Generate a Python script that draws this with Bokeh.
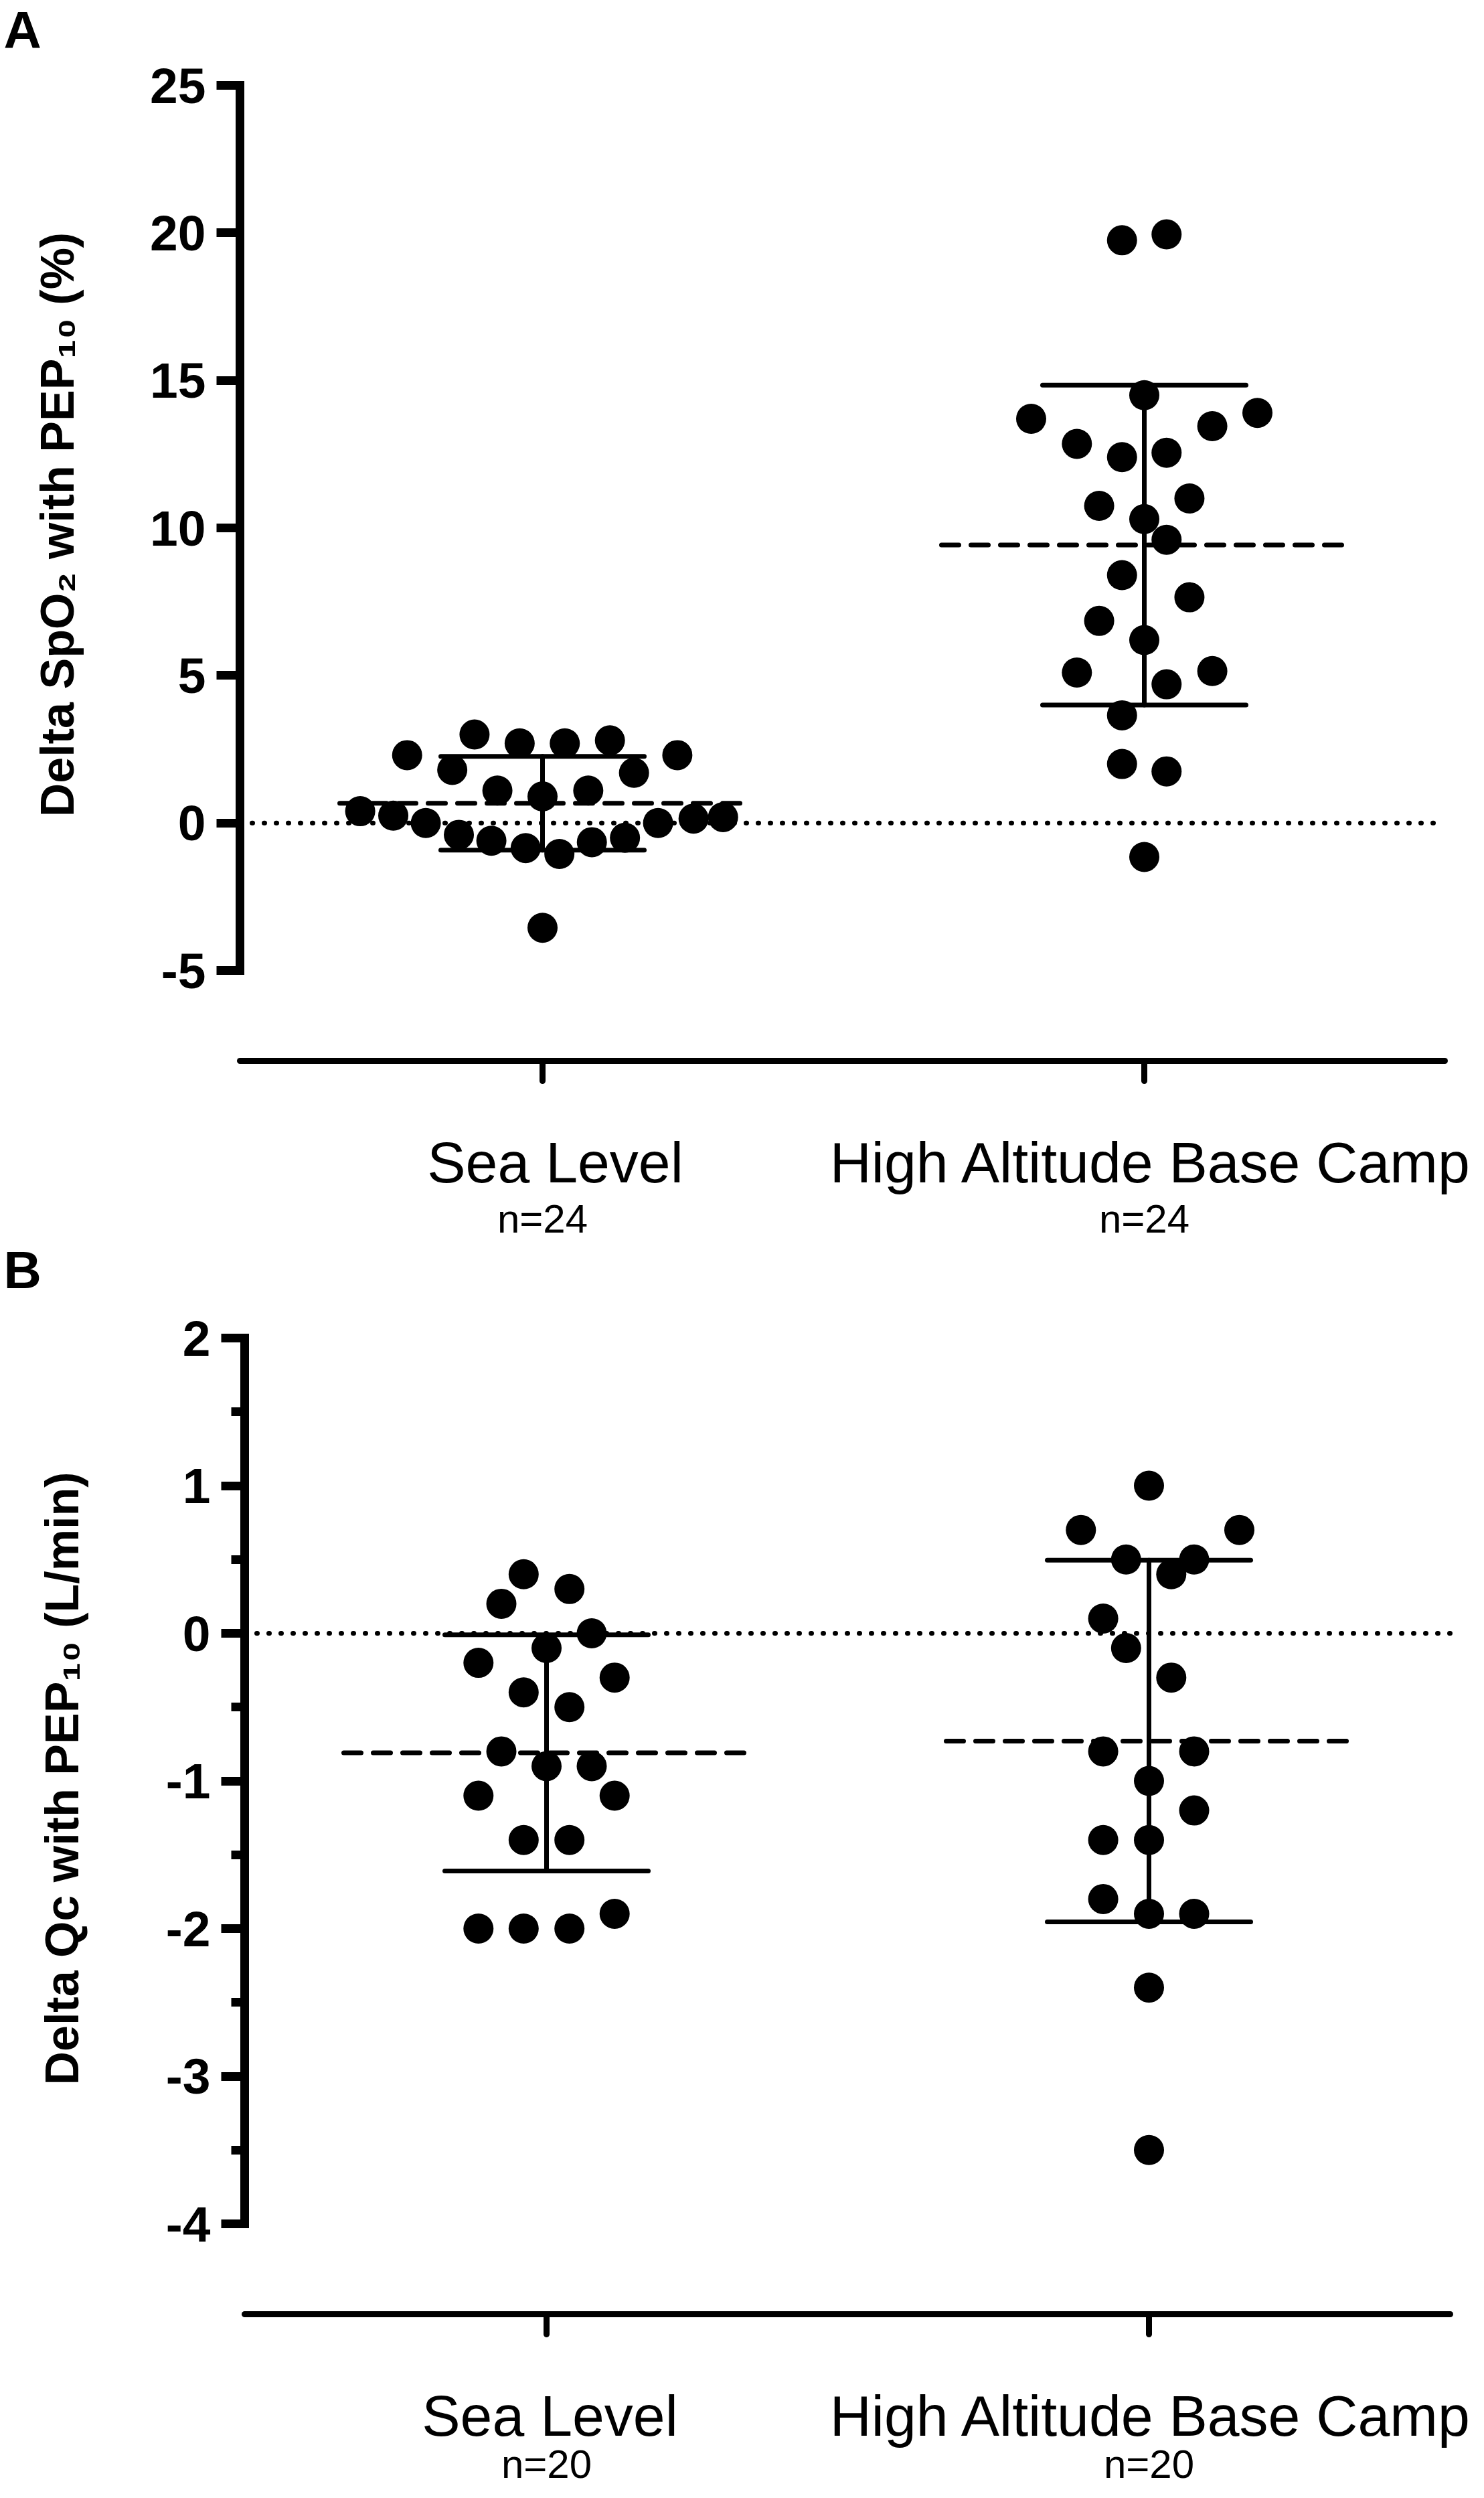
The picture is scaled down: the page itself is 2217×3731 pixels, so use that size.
import numpy as np
from bokeh.plotting import figure
from bokeh.models import FixedTicker, LinearAxis, Range1d
from bokeh.core.properties import value
from bokeh.embed import file_html
from bokeh.resources import INLINE

# ---------------- data ----------------
categories = ["Sea Level", "High Altitude Base Camp"]
n_labels_a = ["n=24", "n=24"]
n_labels_b = ["n=20", "n=20"]

# Panel A: Delta SpO2 with PEP10 (%)
spo2_sea = [0.4, 0.25, 0.0, 2.3, 1.8, 3.0, 2.7, 2.7, 2.8, 1.7, 2.3, 1.1, 0.9, 1.1,
            -0.4, -0.6, -0.85, -1.05, -0.65, -0.5, 0.0, 0.15, 0.2, -3.55]
spo2_sea_jitter = [-0.303, -0.248, -0.194, -0.225, -0.150, -0.113, -0.038, 0.037, 0.112,
                   0.152, 0.224, -0.075, 0.0, 0.076, -0.139, -0.085, -0.028, 0.028,
                   0.082, 0.137, 0.192, 0.251, 0.300, 0.0]
spo2_high = [19.75, 19.95, 14.5, 13.7, 13.9, 13.45, 12.85, 12.4, 12.55, 10.75, 11.0, 10.3,
             9.6, 8.4, 7.65, 6.85, 6.2, 5.1, 5.15, 4.7, 3.65, 2.0, 1.75, -1.15]
spo2_high_jitter = [-0.037, 0.037, 0.0, -0.188, 0.188, 0.113, -0.112, -0.037, 0.037, -0.075,
                    0.075, 0.0, 0.037, -0.037, 0.075, -0.075, 0.0, -0.112, 0.113, 0.037,
                    -0.037, -0.037, 0.037, 0.0]
spo2_mean = [0.67, 9.42]
spo2_sd = [1.59, 5.42]

# Panel B: Delta Qc with PEP10 (L/min)
qc_sea = [0.4, 0.3, 0.2, 0.0, -0.1, -0.2, -0.3, -0.4, -0.5, -0.8, -0.9, -0.9, -1.1, -1.1,
          -1.4, -1.4, -2.0, -2.0, -2.0, -1.9]
qc_sea_jitter = [-0.038, 0.038, -0.075, 0.075, 0.0, -0.113, 0.113, -0.038, 0.038, -0.075,
                 0.0, 0.075, -0.113, 0.113, -0.038, 0.038, -0.113, -0.038, 0.038, 0.113]
qc_high = [1.0, 0.7, 0.7, 0.5, 0.5, 0.4, 0.1, -0.1, -0.3, -0.8, -0.8, -1.0, -1.2, -1.4,
           -1.4, -1.8, -1.9, -1.9, -2.4, -3.5]
qc_high_jitter = [0.0, -0.113, 0.150, -0.038, 0.075, 0.037, -0.076, -0.038, 0.037, -0.076,
                  0.075, 0.0, 0.075, -0.076, 0.0, -0.076, 0.0, 0.075, 0.0, 0.0]
qc_mean = [-0.81, -0.73]
qc_sd = [0.80, 1.225]

yticks_a = [-5, 0, 5, 10, 15, 20, 25]
yticks_b = [-4, -3, -2, -1, 0, 1, 2]
yminor_b = [-3.5, -2.5, -1.5, -0.5, 0.5, 1.5]

FONT = "Liberation Sans"
W, H = 2200, 3715


def ranges(geo):
    ppx, ppy = geo["px_per_cat"], geo["px_per_unit"]
    x0 = 1.0 - geo["cat1_px"] / ppx
    x1 = x0 + W / ppx
    tick, tick_px = geo["top_tick"]
    y1 = tick + tick_px / ppy
    y0 = y1 - H / ppy
    return (x0, x1), (y0, y1)


geo_a = dict(px_per_cat=899.0, cat1_px=810.0, px_per_unit=44.07, top_tick=(25, 127.0),
             yaxis_px=358.0, xaxis_px=1584.0, xend_px=2158.0, label_dx_px=19.0,
             cat_standoff=103, n_mid_px=1820.0, letter_px=(5, 44.0), ytitle_px=(85, 783))
geo_b = dict(px_per_cat=900.0, cat1_px=816.0, px_per_unit=220.5, top_tick=(2, 1998.0),
             yaxis_px=365.0, xaxis_px=3456.0, xend_px=2166.0, label_dx_px=5.0,
             cat_standoff=103, n_mid_px=3680.0, letter_px=(5, 1896.5), ytitle_px=(92, 2656))

xr_a, yr_a = ranges(geo_a)
xr_b, yr_b = ranges(geo_b)

p = figure(width=W, height=H, output_backend="svg", toolbar_location=None,
           x_range=Range1d(*xr_a), y_range=Range1d(*yr_a), min_border=0)
p.extra_x_ranges = {"bx": Range1d(*xr_b)}
p.extra_y_ranges = {"by": Range1d(*yr_b)}
p.outline_line_color = None
p.xgrid.visible = False
p.ygrid.visible = False
p.background_fill_color = "white"
p.border_fill_color = "white"


def style_yaxis(ya, yticks, yminor, ybounds, loc):
    ya.fixed_location = loc
    ya.ticker = FixedTicker(ticks=yticks, minor_ticks=yminor)
    ya.major_label_overrides = {t: str(t) for t in yticks}
    ya.bounds = ybounds
    ya.axis_line_width = 13
    ya.axis_line_cap = "square"
    ya.major_tick_line_width = 13
    ya.major_tick_out = 35
    ya.major_tick_in = 0
    ya.minor_tick_line_width = 13
    ya.minor_tick_out = 20
    ya.minor_tick_in = 0
    ya.major_label_text_font = FONT
    ya.major_label_text_font_style = "bold"
    ya.major_label_text_font_size = "75px"
    ya.major_label_text_color = "black"
    ya.major_label_standoff = 16


def style_xaxis(xa, loc, bounds):
    xa.fixed_location = loc
    xa.bounds = bounds
    xa.ticker = FixedTicker(ticks=[1, 2], minor_ticks=[])
    xa.major_label_text_font_size = "0px"
    xa.major_label_text_color = None
    xa.axis_line_width = 9
    xa.axis_line_cap = "round"
    xa.major_tick_line_width = 9
    xa.major_tick_line_cap = "round"
    xa.major_tick_out = 30
    xa.major_tick_in = 0
    xa.minor_tick_out = 0


def draw_panel(letter, ylabel, sea, sea_j, high, high_j, mean, sd, n_labels,
               yticks, yminor, ybounds, geo, xr, yr, xname, yname, first):
    ppx, ppy = geo["px_per_cat"], geo["px_per_unit"]

    def dx(px):
        return xr[0] + px / ppx

    def dy(py):
        return yr[1] - py / ppy

    rn = dict(x_range_name=xname, y_range_name=yname)
    yaxis_x = dx(geo["yaxis_px"])
    xaxis_y = dy(geo["xaxis_px"])
    xaxis_end = dx(geo["xend_px"])

    if first:
        ya = p.yaxis[0]
        xa = p.xaxis[0]
    else:
        ya = LinearAxis(**rn)
        p.add_layout(ya, "left")
        xa = LinearAxis(**rn)
        p.add_layout(xa, "below")
    style_yaxis(ya, yticks, yminor, ybounds, yaxis_x)
    style_xaxis(xa, xaxis_y, (yaxis_x, xaxis_end))

    lab_off = geo["label_dx_px"] / ppx
    lab_ticks = [1 + lab_off, 2 + lab_off]
    cax = LinearAxis(fixed_location=xaxis_y,
                     ticker=FixedTicker(ticks=lab_ticks, minor_ticks=[]),
                     major_label_overrides={lab_ticks[0]: categories[0],
                                            lab_ticks[1]: categories[1]}, **rn)
    cax.axis_line_color = None
    cax.major_tick_line_color = None
    cax.minor_tick_line_color = None
    cax.major_tick_out = 0
    cax.major_tick_in = 0
    cax.minor_tick_out = 0
    cax.major_label_text_font = FONT
    cax.major_label_text_font_size = "86px"
    cax.major_label_text_color = "black"
    cax.major_label_standoff = geo["cat_standoff"]
    p.add_layout(cax, "below")

    # group sizes, centred under the category ticks
    ny = dy(geo["n_mid_px"])
    p.text(x=[1.0, 2.0], y=[ny, ny], text=n_labels, text_font=value(FONT),
           text_font_size="60px", text_color="black", text_align="center",
           text_baseline="middle", **rn)

    # zero reference (dotted)
    p.segment(x0=[yaxis_x], y0=[0], x1=[xaxis_end], y1=[0], line_color="black",
              line_width=7, line_dash="1 17", line_cap="round", **rn)

    cats = np.array([1.0, 2.0])
    m = np.array(mean)
    s = np.array(sd)
    cap_hw = 152 / ppx
    mean_hw = 303 / ppx
    p.segment(x0=cats - mean_hw, y0=m, x1=cats + mean_hw, y1=m, line_color="black",
              line_width=7, line_dash="26 18", line_cap="round", **rn)
    p.segment(x0=cats, y0=m - s, x1=cats, y1=m + s, line_color="black", line_width=7,
              line_cap="round", **rn)
    p.segment(x0=cats - cap_hw, y0=m + s, x1=cats + cap_hw, y1=m + s, line_color="black",
              line_width=7, line_cap="round", **rn)
    p.segment(x0=cats - cap_hw, y0=m - s, x1=cats + cap_hw, y1=m - s, line_color="black",
              line_width=7, line_cap="round", **rn)

    xs = np.concatenate([1.0 + np.array(sea_j), 2.0 + np.array(high_j)])
    ys = np.concatenate([np.array(sea), np.array(high)])
    p.scatter(x=xs, y=ys, size=45, marker="circle", fill_color="black", line_color=None, **rn)

    lx, ly = geo["letter_px"]
    p.text(x=[dx(lx)], y=[dy(ly)], text=[letter], text_font=value(FONT),
           text_font_style="bold", text_font_size="78px", text_color="black",
           text_align="left", text_baseline="middle", **rn)
    tx, ty = geo["ytitle_px"]
    p.text(x=[dx(tx)], y=[dy(ty)], text=[ylabel], angle=np.pi / 2, text_font=value(FONT),
           text_font_style="bold", text_font_size="70px", text_color="black",
           text_align="center", text_baseline="middle", **rn)


draw_panel("A", "Delta SpO\u2082 with PEP\u2081\u2080 (%)",
           spo2_sea, spo2_sea_jitter, spo2_high, spo2_high_jitter, spo2_mean, spo2_sd,
           n_labels_a, yticks_a, [], (-5, 25), geo_a, xr_a, yr_a, "default", "default", True)
draw_panel("B", "Delta Qc with PEP\u2081\u2080 (L/min)",
           qc_sea, qc_sea_jitter, qc_high, qc_high_jitter, qc_mean, qc_sd,
           n_labels_b, yticks_b, yminor_b, (-4, 2), geo_b, xr_b, yr_b, "bx", "by", False)

open("out.html", "w").write(file_html(p, INLINE))
